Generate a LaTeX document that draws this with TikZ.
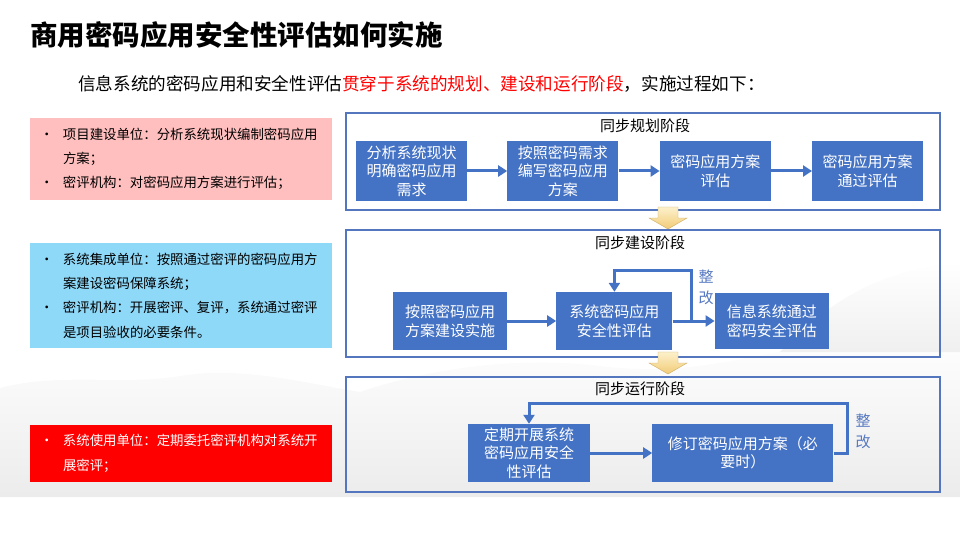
\documentclass[tikz,border=0pt]{standalone}
\usepackage{fontspec}
\setmainfont{Noto Sans CJK SC}
\usetikzlibrary{arrows.meta, positioning, calc, backgrounds}

\definecolor{flowblue}{RGB}{68,114,196}
\definecolor{frameblue}{RGB}{84,118,190}
\definecolor{fixblue}{RGB}{86,120,192}
\definecolor{notepink}{RGB}{255,191,191}
\definecolor{notecyan}{RGB}{142,216,248}
\definecolor{arrowtop}{RGB}{253,241,204}
\definecolor{arrowbot}{RGB}{241,203,118}

\newcommand{\itemdot}{\makebox[23pt][l]{•}}
\newcommand{\itemgap}{\hspace*{23pt}}

\begin{document}
\begin{tikzpicture}[
        x=1pt, y=-1pt,
        node distance=41pt,
        font=\fontsize{15}{18.5}\selectfont,
        stage/.style={rectangle, draw=frameblue, line width=1.1pt, minimum width=594pt, inner sep=0pt},
        stagetitle/.style={inner sep=0pt},
        stepbox/.style={rectangle, fill=flowblue, text=white, align=center, inner sep=0pt, minimum height=60pt},
        note/.style={rectangle, align=left, text width=282pt, inner xsep=10pt, inner ysep=0pt, font=\fontsize{13.4}{24.3}\selectfont},
        fixlabel/.style={text=fixblue, align=center, inner sep=0pt, font=\fontsize{15}{21}\selectfont},
        flow/.style={draw=flowblue, line width=3pt, -{Triangle[length=9pt, width=11pt]}},
        blockarrow/.style={top color=arrowtop, bottom color=arrowbot, draw=arrowbot!85!black, line width=0.4pt}
    ]
        \useasboundingbox (0,0) rectangle (960,540);

        % faint mountains behind the lower half
        \begin{scope}[on background layer]
            \shade[top color=white, bottom color=gray!15] (0,497) -- (0,388) .. controls (60,372) and (120,386) .. (180,376) .. controls (240,366) and (300,382) .. (360,392) .. controls (430,368) and (520,356) .. (600,366) .. controls (680,376) and (730,360) .. (800,348) .. controls (860,338) and (920,332) .. (960,336) -- (960,497) -- cycle;
            \shade[top color=white, bottom color=gray!12] (780,352) .. controls (830,300) and (880,270) .. (960,262) -- (960,352) -- cycle;
        \end{scope}

        \node (title) [anchor=west, inner sep=0pt, font=\fontsize{27.5}{30}\selectfont\bfseries] at (30,35) {商用密码应用安全性评估如何实施};
        \node (intro) [anchor=west, inner sep=0pt, font=\fontsize{17.6}{20}\selectfont] at (78,84) {信息系统的密码应用和安全性评估\textcolor{red}{贯穿于系统的规划、建设和运行阶段}，实施过程如下：};

        % left notes
        \node (noteplan) [note, fill=notepink, minimum height=82pt] at (181,159) {\itemdot 项目建设单位：分析系统现状编制密码应用\\\itemgap 方案；\\\itemdot 密评机构：对密码应用方案进行评估；};
        \node (notebuild) [note, fill=notecyan, minimum height=105pt] at (181,295.5) {\itemdot 系统集成单位：按照通过密评的密码应用方\\\itemgap 案建设密码保障系统；\\\itemdot 密评机构：开展密评、复评，系统通过密评\\\itemgap 是项目验收的必要条件。};
        \node (noterun) [note, fill=red, text=white, minimum height=57pt] at (181,453.5) {\itemdot 系统使用单位：定期委托密评机构对系统开\\\itemgap 展密评；};

        % stage frames
        \node (plan) [stage, fill=white, minimum height=97pt] at (643,161.5) {};
        \node (build) [stage, minimum height=127pt] at (643,293.5) {};
        \node (run) [stage, minimum height=115pt] at (643,434.5) {};

        \node (plantitle) [stagetitle] at (645,126) {同步规划阶段};
        \node (buildtitle) [stagetitle] at (640,243) {同步建设阶段};
        \node (runtitle) [stagetitle] at (640,389) {同步运行阶段};

        % planning
        \node (analyse) [stepbox, minimum width=111pt] at (411.5,171) {分析系统现状\\明确密码应用\\需求};
        \node (write) [stepbox, minimum width=111pt, right=40pt of analyse] {按照密码需求\\编写密码应用\\方案};
        \node (assess) [stepbox, minimum width=111pt, right=of write] {密码应用方案\\评估};
        \node (pass) [stepbox, minimum width=111pt, right=of assess] {密码应用方案\\通过评估};

        \draw [flow] (analyse) -- (write);
        \draw [flow] (write) -- (assess);
        \draw [flow] (assess) -- (pass);

        % building
        \node (construct) [stepbox, minimum width=114pt, minimum height=58pt] at (450,321) {按照密码应用\\方案建设实施};
        \node (evaluate) [stepbox, minimum width=116pt, minimum height=58pt, right=49pt of construct] {系统密码应用\\安全性评估};
        \node (certify) [stepbox, minimum width=114pt, minimum height=56pt, right=42pt of evaluate] {信息系统通过\\密码安全评估};
        \coordinate (fork) at ($(evaluate.east)+(19pt,0)$);

        \draw [flow] (construct) -- (evaluate);
        \draw [flow] (evaluate) -- (certify);
        \draw [flow] (fork) -- ++(0,51pt) -| (evaluate.north);
        \node (fixbuild) [fixlabel] at (706,287) {整\\改};

        % running
        \node (periodic) [stepbox, minimum width=122pt, minimum height=58pt] at (529,453) {定期开展系统\\密码应用安全\\性评估};
        \node (revise) [stepbox, minimum width=181pt, minimum height=58pt, right=62pt of periodic] {修订密码应用方案（必\\要时）};

        \draw [flow] (periodic) -- (revise);
        \draw [flow] (revise.east) -- ++(14pt,0) |- ([yshift=20pt]periodic.north) -- (periodic.north);
        \node (fixrun) [fixlabel] at (863,431) {整\\改};

        % arrows between stages
        \coordinate (gapplan) at (668,207);
        \coordinate (gapbuild) at (668,352);
        \shade [blockarrow] (gapplan) ++(-10pt,0) -- ++(20pt,0) -- ++(0,-11pt) -- ++(9pt,0) -- ++(-19pt,-11pt) -- ++(-19pt,11pt) -- ++(9pt,0) -- cycle;
        \shade [blockarrow] (gapbuild) ++(-10pt,0) -- ++(20pt,0) -- ++(0,-11pt) -- ++(9pt,0) -- ++(-19pt,-11pt) -- ++(-19pt,11pt) -- ++(9pt,0) -- cycle;
    \end{tikzpicture}
\end{document}
